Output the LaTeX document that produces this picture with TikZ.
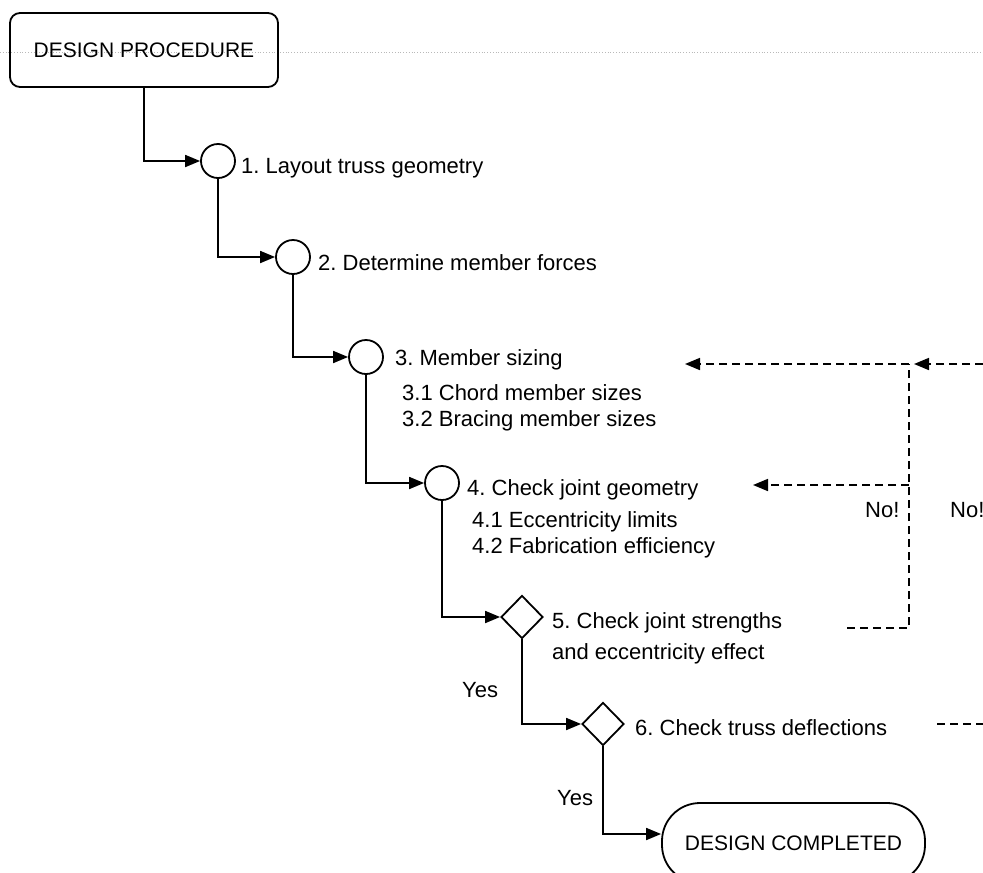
\documentclass[tikz,border=0pt]{standalone}
\usepackage{fontspec}
\setmainfont{Liberation Sans}
\usetikzlibrary{arrows.meta,shapes.geometric}
\frenchspacing
\begin{document}
\begin{tikzpicture}[x=1pt,y=-1pt,
  every node/.style={font=\fontsize{22}{26}\selectfont},
  tipstyle/.style={-{Triangle[length=15pt,width=12pt]}},
  flow/.style={line width=1.8pt,tipstyle},
  ret/.style={line width=1.7pt,dash pattern=on 8pt off 5pt},
  retarrow/.style={ret,tipstyle},
  stepcircle/.style={circle,draw,line width=1.8pt,minimum size=34pt,inner sep=0pt},
  stepdiamond/.style={diamond,draw,line width=1.8pt,minimum width=42pt,minimum height=43pt,inner sep=0pt},
  lbl/.style={anchor=base west,inner sep=0pt},
  termbox/.style={draw,line width=1.8pt,inner sep=0pt,font=\fontsize{21}{25}\selectfont}
]
\useasboundingbox (0,0) rectangle (983,873);
% faint scan line
\coordinate (gl) at (0,52);
\coordinate (gr) at (983,52);
\draw[gray!55,dotted,line width=0.8pt] (gl) -- (gr);

% terminal boxes
\node[termbox,rounded corners=10pt,minimum width=268pt,minimum height=74pt] (start) at (144,50) {DESIGN PROCEDURE};
\node[termbox,rounded corners=38pt,minimum width=263pt,minimum height=80pt] (done) at (793.5,843) {DESIGN COMPLETED};

% step symbols
\node[stepcircle] (c1) at (218,161) {};
\node[stepcircle] (c2) at (293,257) {};
\node[stepcircle] (c3) at (366,357) {};
\node[stepcircle] (c4) at (442,483) {};
\node[stepdiamond] (d5) at (522,617) {};
\node[stepdiamond] (d6) at (603,724) {};

% step texts
\node[lbl] (t1) at (241,173) {1. Layout truss geometry};
\node[lbl] (t2) at (318,270) {2. Determine member forces};
\node[lbl] (t3) at (395,365) {3. Member sizing};
\node[lbl] (t31) at (402,400) {3.1 Chord member sizes};
\node[lbl] (t32) at (402,426) {3.2 Bracing member sizes};
\node[lbl] (t4) at (467,495) {4. Check joint geometry};
\node[lbl] (t41) at (472,527) {4.1 Eccentricity limits};
\node[lbl] (t42) at (472,553) {4.2 Fabrication efficiency};
\node[lbl] (t5) at (552,628) {5. Check joint strengths};
\node[lbl] (t5b) at (552,659) {and eccentricity effect};
\node[lbl] (t6) at (635,735) {6. Check truss deflections};
\node[lbl] (yes1) at (462,697) {Yes};
\node[lbl] (yes2) at (557,805) {Yes};
\node[lbl] (no1) at (865,517) {No!};
\node[lbl] (no2) at (950,517) {No!};

% main flow
\draw[flow] (start.south) |- (c1.west);
\draw[flow] (c1.south) |- (c2.west);
\draw[flow] (c2.south) |- (c3.west);
\draw[flow] (c3.south) |- (c4.west);
\draw[flow] (c4.south) |- (d5.west);
\draw[flow] (d5.south) |- (d6.west);
\draw[flow] (d6.south) |- ([yshift=9pt]done.west);

% return (No!) paths
\coordinate (r3) at (685,364);
\coordinate (r4) at (753,485);
\coordinate (vtop) at (909,364);
\coordinate (vmid) at (909,485);
\coordinate (vbot) at (909,628);
\coordinate (n5) at (847,628);
\coordinate (edge3) at (983,364);
\coordinate (v6tip) at (914,364);
\coordinate (n6) at (937,724);
\coordinate (edge6) at (983,724);
\draw[ret] (n5) -- (vbot) -- (vtop);
\draw[retarrow] (vtop) -- (r3);
\draw[retarrow] (vmid) -- (r4);
\draw[retarrow] (edge3) -- (v6tip);
\draw[ret] (n6) -- (edge6);
\end{tikzpicture}
\end{document}
